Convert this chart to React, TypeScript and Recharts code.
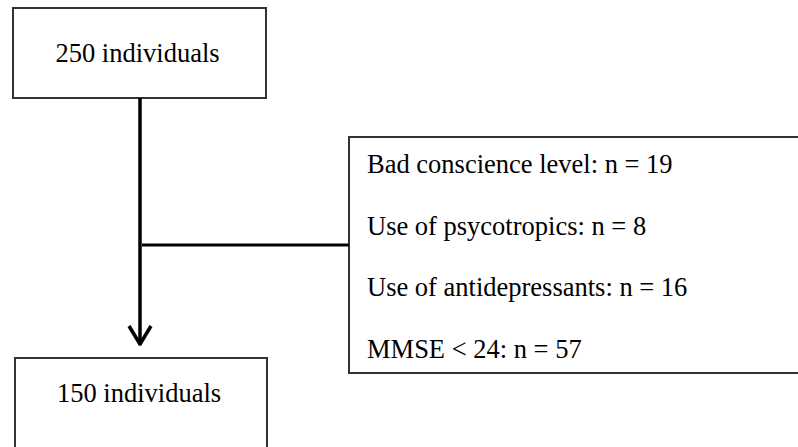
import React from "react";
import {
  ComposedChart,
  XAxis,
  YAxis,
  Scatter,
  ReferenceArea,
  ReferenceLine,
  ReferenceDot,
} from "recharts";

// flow chart content
const stageLabels = ["250 individuals", "150 individuals"];
const exclusionReasons = [
  "Bad conscience level",
  "Use of psycotropics",
  "Use of antidepressants",
  "MMSE < 24",
];
const exclusionCounts = [19, 8, 16, 57];

// layout in pixel-like data units (x: 0..798, y: 0..447 top-down)
const W = 798;
const H = 447;
const stageBoxes = [
  { x1: 13, x2: 266, y1: 8, y2: 98, textY: 52.5 },
  { x1: 15, x2: 267, y1: 358, y2: 470, textY: 393 },
];
const exclusionBox = { x1: 349, x2: 820, y1: 137, y2: 373 };
const reasonX = 358;
const reasonY0 = 163.5;
const reasonStep = 61.7;
const mainX = 140;
const arrowTip = 345;
const branchY = 245;

const FONT = '"Liberation Serif", "Times New Roman", serif';
const INK = "#000";
const BOX = "#333";

const textStyle = { fontFamily: FONT, fontSize: 26.5, fill: INK };

export default function App() {
  const reasons = exclusionReasons.map((r, i) => ({
    text: `${r}: n = ${exclusionCounts[i]}`,
    y: reasonY0 + i * reasonStep,
  }));
  // anchor points spanning the drawing area so the axes get a domain
  const frame = [
    { x: 0, y: 0 },
    { x: W, y: H },
  ];

  return (
    <div style={{ position: "absolute", left: 0, top: 0, width: W, height: H, background: "#fff" }}>
      <ComposedChart width={W} height={H} data={frame} margin={{ top: 0, right: 0, bottom: 0, left: 0 }}>
        <XAxis type="number" dataKey="x" domain={[0, W]} allowDataOverflow hide />
        <YAxis type="number" dataKey="y" domain={[0, H]} allowDataOverflow reversed hide width={0} />
        <Scatter data={frame} dataKey="y" fill="none" shape={() => null} isAnimationActive={false} />

        {stageBoxes.map((b, i) => (
          <ReferenceArea
            key={`box-${i}`}
            x1={b.x1}
            x2={b.x2}
            y1={b.y1}
            y2={b.y2}
            ifOverflow="visible"
            fill="#fff"
            fillOpacity={1}
            stroke={BOX}
            strokeWidth={2}
          />
        ))}
        <ReferenceArea
          x1={exclusionBox.x1}
          x2={exclusionBox.x2}
          y1={exclusionBox.y1}
          y2={exclusionBox.y2}
          ifOverflow="visible"
          fill="#fff"
          fillOpacity={1}
          stroke={BOX}
          strokeWidth={2}
        />

        <ReferenceLine
          segment={[{ x: mainX, y: 98 }, { x: mainX, y: arrowTip - 1 }]}
          stroke={INK}
          strokeWidth={3.5}
          ifOverflow="visible"
        />
        <ReferenceLine
          segment={[{ x: mainX - 11, y: arrowTip - 19 }, { x: mainX + 0.5, y: arrowTip }]}
          stroke={INK}
          strokeWidth={3.5}
          ifOverflow="visible"
        />
        <ReferenceLine
          segment={[{ x: mainX + 11, y: arrowTip - 19 }, { x: mainX - 0.5, y: arrowTip }]}
          stroke={INK}
          strokeWidth={3.5}
          ifOverflow="visible"
        />
        <ReferenceLine
          segment={[{ x: mainX + 2, y: branchY }, { x: exclusionBox.x1, y: branchY }]}
          stroke={INK}
          strokeWidth={3}
          ifOverflow="visible"
        />

        {stageBoxes.map((b, i) => (
          <ReferenceDot
            key={`stage-${i}`}
            x={(b.x1 + b.x2) / 2 - 2}
            y={b.textY}
            r={0}
            fill="none"
            stroke="none"
            ifOverflow="visible"
            label={{ value: stageLabels[i], position: "center", style: textStyle }}
          />
        ))}
        {reasons.map((r, i) => (
          <ReferenceDot
            key={`reason-${i}`}
            x={reasonX}
            y={r.y}
            r={0}
            fill="none"
            stroke="none"
            ifOverflow="visible"
            label={{ value: r.text, position: "right", offset: 9, style: textStyle }}
          />
        ))}
      </ComposedChart>
    </div>
  );
}
